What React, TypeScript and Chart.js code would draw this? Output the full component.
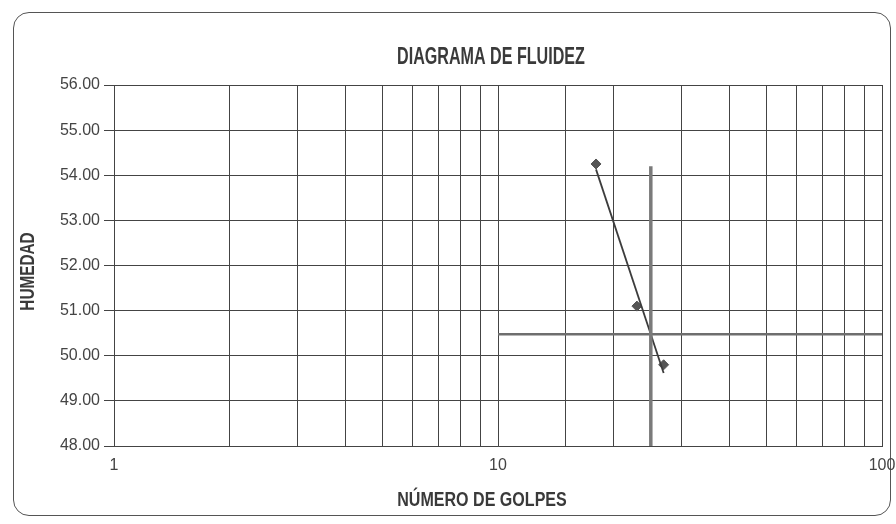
import React, { useEffect, useRef } from "react";
import { Chart, registerables } from "chart.js";

Chart.register(...registerables);

const TITLE = "DIAGRAMA DE FLUIDEZ";
const X_TITLE = "NÚMERO DE GOLPES";
const Y_TITLE = "HUMEDAD";

// Ensayo de límite líquido
const golpes = [18, 23, 27];
const humedad = [54.25, 51.1, 49.8];

const X_MIN = 1;
const X_MAX = 100;
const Y_MIN = 48;
const Y_MAX = 56;
const X_LABELS = [1, 10, 100];

// Línea de referencia en 25 golpes
const GOLPES_REF = 25;
const REF_V_TOP = 54.2;
const REF_H_FROM = 10;

function logFit(xs: number[], ys: number[]) {
  const lx = xs.map((v) => Math.log10(v));
  const n = xs.length;
  const mx = lx.reduce((a, b) => a + b, 0) / n;
  const my = ys.reduce((a, b) => a + b, 0) / n;
  let sxy = 0;
  let sxx = 0;
  for (let i = 0; i < n; i++) {
    sxy += (lx[i] - mx) * (ys[i] - my);
    sxx += (lx[i] - mx) * (lx[i] - mx);
  }
  const b = sxy / sxx;
  const a = my - b * mx;
  return (x: number) => a + b * Math.log10(x);
}

const FONT = "'Liberation Sans', Arial, sans-serif";

function drawCondensed(
  ctx: CanvasRenderingContext2D,
  text: string,
  x: number,
  y: number,
  size: number,
  squeeze: number,
  rotate = 0
) {
  ctx.save();
  ctx.translate(x, y);
  if (rotate) ctx.rotate(rotate);
  ctx.scale(squeeze, 1);
  ctx.font = `bold ${size}px ${FONT}`;
  ctx.fillStyle = "#3a3a3a";
  ctx.textAlign = "center";
  ctx.textBaseline = "middle";
  ctx.fillText(text, 0, 0);
  ctx.restore();
}

export default function App() {
  const ref = useRef<HTMLCanvasElement | null>(null);

  useEffect(() => {
    if (!ref.current) return;
    const fit = logFit(golpes, humedad);
    const xLo = Math.min(...golpes);
    const xHi = Math.max(...golpes);
    const ll = fit(GOLPES_REF);

    const textPlugin = {
      id: "condensedTitles",
      afterDraw(chart: any) {
        const { ctx, chartArea } = chart;
        const cx = (chartArea.left + chartArea.right) / 2;
        const cy = (chartArea.top + chartArea.bottom) / 2;
        drawCondensed(ctx, TITLE, cx - 7, 58, 23, 0.7);
        drawCondensed(ctx, X_TITLE, cx - 16, 500, 21, 0.765);
        drawCondensed(ctx, Y_TITLE, 28, cy + 6, 21, 0.73, -Math.PI / 2);
      },
    };

    const chart = new Chart(ref.current, {
      type: "scatter",
      data: {
        datasets: [
          {
            label: "Referencia vertical",
            data: [
              { x: GOLPES_REF, y: Y_MIN },
              { x: GOLPES_REF, y: REF_V_TOP },
            ],
            showLine: true,
            borderColor: "#7a7a7a",
            borderWidth: 3.5,
            pointRadius: 0,
          },
          {
            label: "Referencia horizontal",
            data: [
              { x: REF_H_FROM, y: ll },
              { x: X_MAX, y: ll },
            ],
            showLine: true,
            borderColor: "#6e6e6e",
            borderWidth: 2.5,
            pointRadius: 0,
          },
          {
            label: "Tendencia",
            data: [
              { x: xLo, y: fit(xLo) },
              { x: xHi, y: fit(xHi) },
            ],
            showLine: true,
            borderColor: "#3c3c3c",
            borderWidth: 1.8,
            pointRadius: 0,
          },
          {
            label: "Humedad",
            data: golpes.map((g, i) => ({ x: g, y: humedad[i] })),
            showLine: false,
            pointStyle: "rectRot",
            pointRadius: 5,
            backgroundColor: "#555555",
            borderColor: "#555555",
          },
        ],
      },
      options: {
        responsive: false,
        animation: false,
        layout: { padding: { top: 85, right: 14, left: 0, bottom: 0 } },
        plugins: {
          legend: { display: false },
          title: { display: false },
          tooltip: { enabled: false },
        },
        scales: {
          x: {
            type: "logarithmic",
            min: X_MIN,
            max: X_MAX,
            afterFit: (s: any) => {
              s.height = 78;
              s.paddingRight = 0;
              s.paddingLeft = 0;
            },
            border: { color: "#444", width: 1 },
            grid: { color: "#444", lineWidth: 1, drawTicks: false },
            ticks: {
              autoSkip: false,
              maxRotation: 0,
              padding: 10,
              color: "#444",
              font: { family: FONT, size: 16 },
              callback: (v: any) => (X_LABELS.includes(Number(v)) ? String(v) : ""),
            },
            title: { display: false },
          },
          y: {
            min: Y_MIN,
            max: Y_MAX,
            afterFit: (s: any) => {
              s.width = 114;
            },
            border: { color: "#444", width: 1 },
            grid: { color: "#444", lineWidth: 1, tickLength: 10 },
            ticks: {
              stepSize: 1,
              padding: 4,
              color: "#444",
              font: { family: FONT, size: 16 },
              callback: (v: any) => Number(v).toFixed(2),
            },
            title: { display: false },
          },
        },
      },
      plugins: [textPlugin],
    } as any);
    return () => chart.destroy();
  }, []);

  return (
    <div style={{ position: "absolute", left: 0, top: 0, width: 896, height: 524, background: "#fff" }}>
      <div
        style={{
          position: "absolute",
          left: 13,
          top: 12,
          width: 878,
          height: 504,
          border: "1px solid #555",
          borderRadius: 16,
          boxSizing: "border-box",
        }}
      />
      <canvas ref={ref} width={896} height={524} style={{ position: "absolute", left: 0, top: 0 }} />
    </div>
  );
}
